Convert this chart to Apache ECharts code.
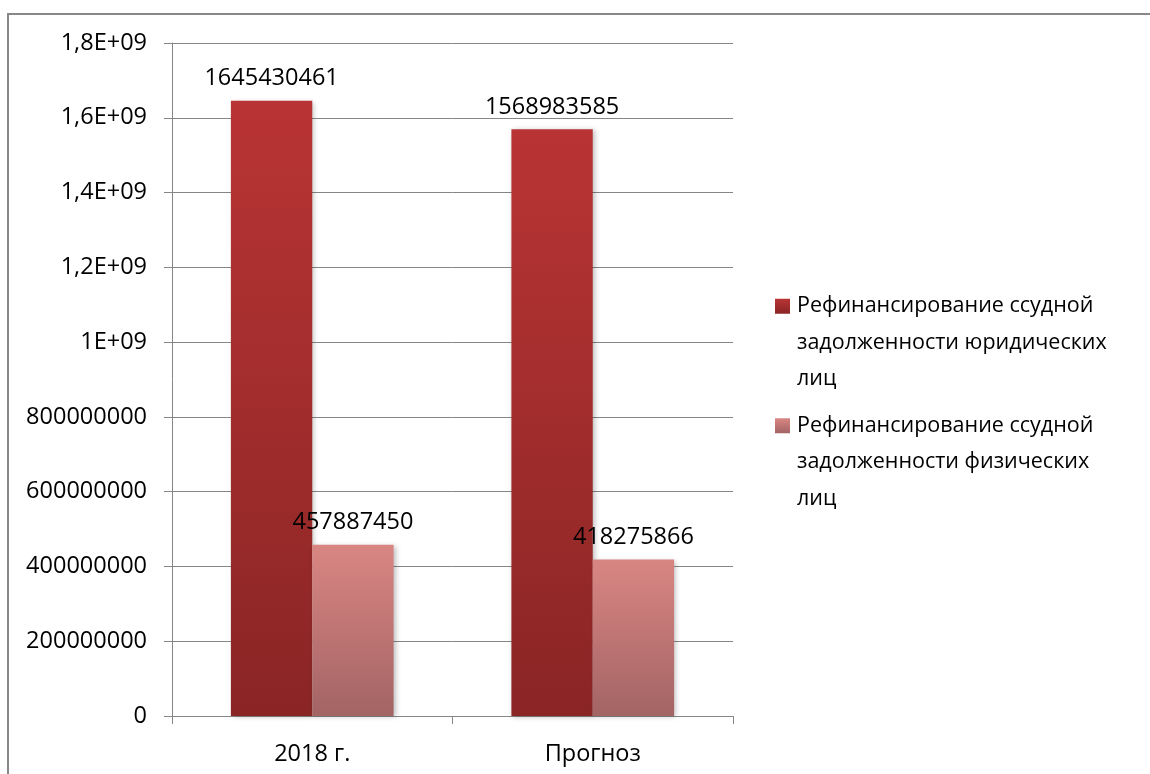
<!DOCTYPE html>
<html>
<head>
<meta charset="utf-8">
<script src="https://cdn.jsdelivr.net/npm/echarts@6/dist/echarts.min.js"></script>
<style>
  html, body { margin: 0; padding: 0; background: #fff; }
  #chart { width: 1150px; height: 774px; }
</style>
</head>
<body>
<div id="chart"></div>
<script>
// Refinancing of loan debt, 2018 vs forecast
var categories = ['2018 г.', 'Прогноз'];
var legalEntities = [1645430461, 1568983585];
var individuals = [457887450, 418275866];
var seriesNames = [
  'Рефинансирование ссудной задолженности юридических лиц',
  'Рефинансирование ссудной задолженности физических лиц'
];
var legendLines = [
  ['Рефинансирование ссудной', 'задолженности юридических', 'лиц'],
  ['Рефинансирование ссудной', 'задолженности физических', 'лиц']
];
var yMax = 1800000000;
var yStep = 200000000;

var FONT = '"Open Sans", "Noto Sans", sans-serif';
var FS = 23.5;
var FS_LEGEND = 21.5;
var GRID = '#868686';

function grad(top, bottom) {
  return new echarts.graphic.LinearGradient(0, 0, 0, 1, [
    { offset: 0, color: top },
    { offset: 1, color: bottom }
  ]);
}
var darkFill = grad('#B93434', '#8A2525');
var lightFill = grad('#D98683', '#A36464');

function yLabel(v) {
  if (v >= 1e9) {
    var m = Math.round(v / 1e8) / 10;
    return String(m).replace('.', ',') + 'E+09';
  }
  return String(v);
}

function legendText(name) {
  var idx = seriesNames.indexOf(name);
  var lines = legendLines[idx];
  var mark = idx === 0 ? 'sqA' : 'sqB';
  var out = '{' + mark + '|}{gap|}{t|' + lines[0] + '}';
  for (var i = 1; i < lines.length; i++) {
    out += '\n{ind|}{t|' + lines[i] + '}';
  }
  return out;
}

var chart = echarts.init(document.getElementById('chart'), null, { renderer: 'canvas' });

var labelStyle = {
  show: true,
  position: 'top',
  distance: 10,
  color: '#000',
  fontFamily: FONT,
  fontSize: FS
};
var barShadow = {
  shadowColor: 'rgba(0,0,0,0.25)',
  shadowBlur: 5,
  shadowOffsetX: 2,
  shadowOffsetY: 1
};

chart.setOption({
  animation: false,
  backgroundColor: '#fff',
  textStyle: { fontFamily: FONT, color: '#000' },
  graphic: [{
    type: 'rect',
    shape: { x: 8, y: 14, width: 1400, height: 1000 },
    style: { fill: 'none', stroke: '#888', lineWidth: 2 },
    silent: true,
    z: 100
  }],
  grid: { left: 172, right: 417, top: 43, bottom: 58, containLabel: false },
  legend: {
    orient: 'vertical',
    left: 765,
    top: 283,
    icon: 'none',
    itemWidth: 0,
    itemHeight: 0,
    itemGap: 10,
    selectedMode: false,
    data: seriesNames,
    formatter: legendText,
    textStyle: {
      fontFamily: FONT,
      fontSize: FS_LEGEND,
      color: '#000',
      lineHeight: 36.5,
      rich: {
        sqA: { width: 15, height: 15, backgroundColor: grad('#B93434', '#8A2525') },
        sqB: { width: 15, height: 15, backgroundColor: grad('#D98683', '#A36464') },
        gap: { width: 7 },
        ind: { width: 22 },
        t: { fontFamily: FONT, fontSize: FS_LEGEND, color: '#000', lineHeight: 36.5 }
      }
    }
  },
  xAxis: {
    type: 'category',
    data: categories,
    axisLine: { show: true, lineStyle: { color: GRID, width: 1 } },
    axisTick: { show: true, length: 8, lineStyle: { color: GRID } },
    axisLabel: { color: '#000', fontFamily: FONT, fontSize: FS, margin: 26 }
  },
  yAxis: {
    type: 'value',
    min: 0,
    max: yMax,
    interval: yStep,
    axisLine: { show: true, lineStyle: { color: GRID, width: 1 } },
    axisTick: { show: true, length: 8, lineStyle: { color: GRID } },
    splitLine: { show: true, lineStyle: { color: GRID, width: 1 } },
    axisLabel: { color: '#000', fontFamily: FONT, fontSize: FS, margin: 25, formatter: yLabel }
  },
  series: [{
    name: seriesNames[0],
    type: 'bar',
    data: legalEntities,
    barGap: '0%',
    barCategoryGap: '42%',
    itemStyle: Object.assign({ color: darkFill }, barShadow),
    label: labelStyle
  }, {
    name: seriesNames[1],
    type: 'bar',
    data: individuals,
    barGap: '0%',
    barCategoryGap: '42%',
    itemStyle: Object.assign({ color: lightFill }, barShadow),
    label: labelStyle
  }]
});
</script>
</body>
</html>
